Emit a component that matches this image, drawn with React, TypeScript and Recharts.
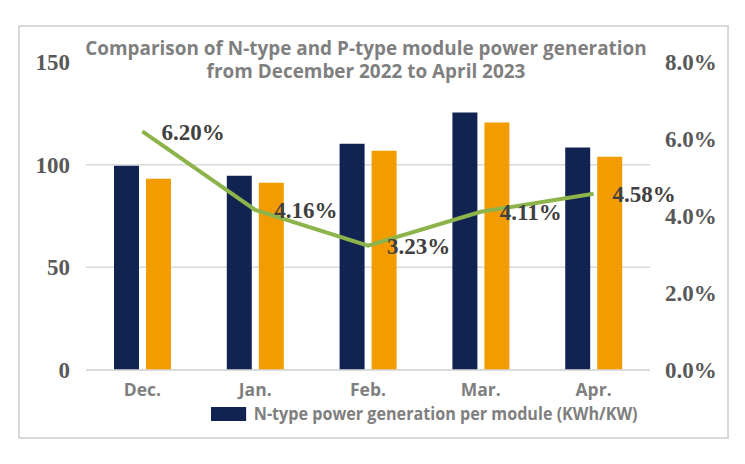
import { Bar, CartesianGrid, ComposedChart, LabelList, Line, XAxis, YAxis } from 'recharts';

const months = ['Dec.', 'Jan.', 'Feb.', 'Mar.', 'Apr.'];
const nType = [99.5, 94.6, 110.2, 125.4, 108.3];
const pType = [93.2, 91.2, 106.8, 120.5, 103.9];
const gain = [6.2, 4.16, 3.23, 4.11, 4.58];
const leftTicks = [0, 50, 100, 150];
const rightTicks = [0, 2, 4, 6, 8];
const titleLines = [
  'Comparison of N-type and P-type module power generation',
  'from December 2022 to April 2023',
];

const chartData = months.map((month, i) => ({
  month,
  nType: nType[i],
  pType: pType[i],
  gain: gain[i],
}));

const sans = '"Open Sans", sans-serif';
const serif = '"Liberation Serif", "Times New Roman", serif';

function GainLabel(props: any) {
  const { x, y, value } = props;
  return (
    <text
      x={x + 19}
      y={y}
      dy="0.36em"
      fontFamily={serif}
      fontWeight="bold"
      fontSize={23}
      fill="#404040"
    >
      {`${Number(value).toFixed(2)}%`}
    </text>
  );
}

export default function App() {
  return (
    <div
      style={{
        position: 'fixed',
        left: 0,
        top: 0,
        width: 745,
        height: 464,
        background: '#fff',
        fontFamily: sans,
      }}
    >
      <div
        style={{
          position: 'absolute',
          left: 18,
          top: 25,
          width: 707,
          height: 410,
          border: '2px solid #d9d9d9',
        }}
      />
      <ComposedChart
        width={745}
        height={464}
        data={chartData}
        margin={{ top: 62, right: 0, bottom: 54, left: 36 }}
        barGap={7}
        barSize={25}
      >
        <CartesianGrid
          yAxisId="left"
          vertical={false}
          stroke="#d9d9d9"
          strokeWidth={1.5}
          horizontalValues={[0, 50, 100]}
        />
        <XAxis
          dataKey="month"
          axisLine={{ stroke: '#d9d9d9', strokeWidth: 1.5 }}
          tickLine={false}
          tickSize={0}
          tickMargin={14}
          height={40}
          tick={{ fill: '#7f7f7f', fontSize: 17.5, fontWeight: 'bold', fontFamily: sans }}
        />
        <YAxis
          yAxisId="left"
          domain={[0, 150]}
          ticks={leftTicks}
          axisLine={false}
          tickLine={false}
          tickSize={0}
          tickMargin={16}
          width={50}
          tick={{ fill: '#595959', fontSize: 23, fontWeight: 'bold', fontFamily: serif }}
        />
        <YAxis
          yAxisId="right"
          orientation="right"
          domain={[0, 8]}
          ticks={rightTicks}
          tickFormatter={(v: number) => `${v.toFixed(1)}%`}
          axisLine={false}
          tickLine={false}
          tickSize={0}
          tickMargin={15}
          width={95}
          tick={{ fill: '#595959', fontSize: 23, fontWeight: 'bold', fontFamily: serif, textAnchor: 'start' }}
        />
        <Bar yAxisId="left" dataKey="nType" fill="#112451" isAnimationActive={false} />
        <Bar yAxisId="left" dataKey="pType" fill="#f39c00" isAnimationActive={false} />
        <Line
          yAxisId="right"
          dataKey="gain"
          stroke="#8db44b"
          strokeWidth={4}
          dot={false}
          activeDot={false}
          isAnimationActive={false}
        >
          <LabelList dataKey="gain" content={GainLabel} />
        </Line>
      </ComposedChart>
      {titleLines.map((line, i) => (
        <div
          key={line}
          style={{
            position: 'absolute',
            left: 66,
            top: 37 + i * 23,
            width: 600,
            height: 22,
            textAlign: 'center',
            color: '#7f7f7f',
            fontWeight: 'bold',
            fontSize: 19.5,
            lineHeight: '22px',
            transform: 'scaleX(0.97)',
            whiteSpace: 'nowrap',
          }}
        >
          {line}
        </div>
      ))}
      <div
        style={{
          position: 'absolute',
          left: 211,
          top: 402,
          display: 'flex',
          alignItems: 'center',
          color: '#7f7f7f',
          fontWeight: 'bold',
          fontSize: 17,
          whiteSpace: 'nowrap',
          transform: 'scaleX(0.95)',
          transformOrigin: 'left center',
        }}
      >
        <span style={{ width: 37, height: 14, background: '#112451', marginRight: 8 }} />
        N-type power generation per module (KWh/KW)
      </div>
    </div>
  );
}
